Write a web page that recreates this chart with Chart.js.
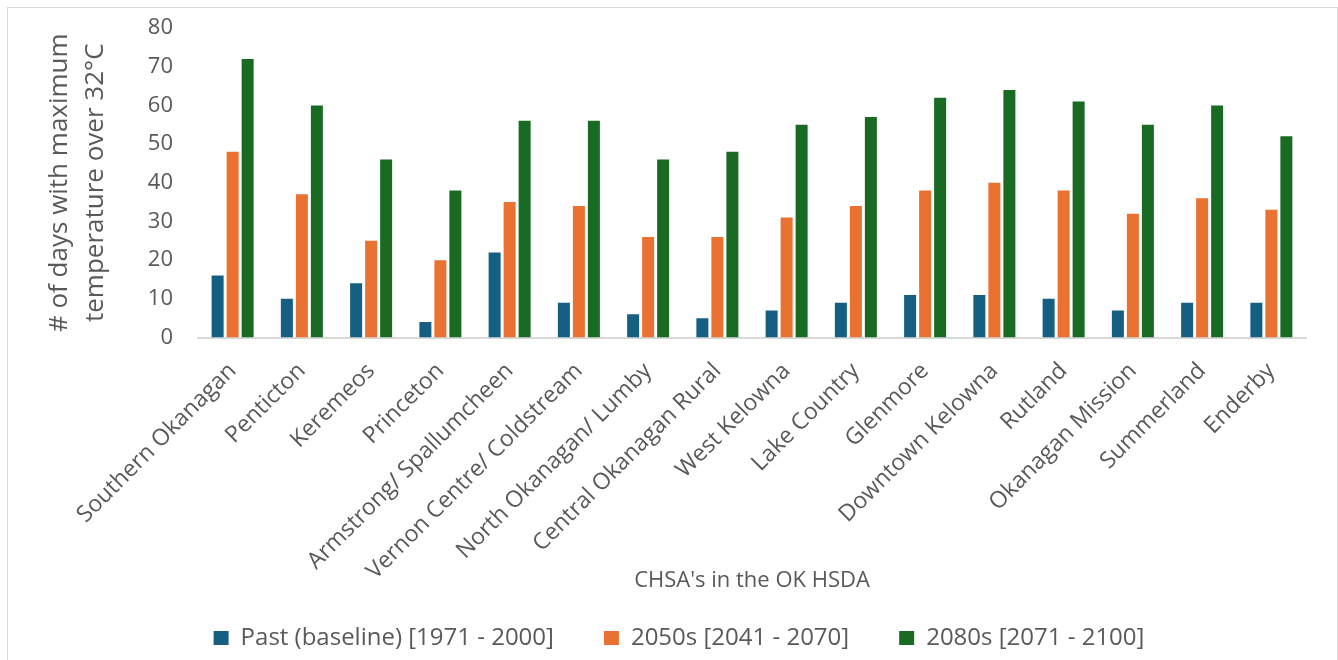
<!DOCTYPE html>
<html>
<head>
<meta charset="utf-8">
<script src="https://cdn.jsdelivr.net/npm/chart.js@4"></script>
<style>
  html, body { margin: 0; padding: 0; background: #fff; }
  #wrap { position: relative; width: 1338px; height: 660px; }
</style>
</head>
<body>
<div id="wrap"><canvas id="heatChart" width="1338" height="660"></canvas></div>
<script>
// CHSAs in the Okanagan HSDA
const areas = [
  "Southern Okanagan", "Penticton", "Keremeos", "Princeton",
  "Armstrong/ Spallumcheen", "Vernon Centre/ Coldstream", "North Okanagan/ Lumby",
  "Central Okanagan Rural", "West Kelowna", "Lake Country", "Glenmore",
  "Downtown Kelowna", "Rutland", "Okanagan Mission", "Summerland", "Enderby"
];

// days per year with max temperature over 32°C
const pastDays = [16, 10, 14, 4, 22, 9, 6, 5, 7, 9, 11, 11, 10, 7, 9, 9];
const days2050s = [48, 37, 25, 20, 35, 34, 26, 26, 31, 34, 38, 40, 38, 32, 36, 33];
const days2080s = [72, 60, 46, 38, 56, 56, 46, 48, 55, 57, 62, 64, 61, 55, 60, 52];

const seriesNames = ["Past (baseline) [1971 - 2000]", "2050s [2041 - 2070]", "2080s [2071 - 2100]"];
const yTicks = [0, 10, 20, 30, 40, 50, 60, 70, 80];

const textColor = "#595959";
const fontFamily = "'Open Sans', 'Liberation Sans', sans-serif";

// light grey frame around the whole chart
const framePlugin = {
  id: "frame",
  beforeDraw(chart) {
    const ctx = chart.ctx;
    ctx.save();
    ctx.fillStyle = "#fff";
    ctx.fillRect(0, 0, chart.width, chart.height);
    ctx.strokeStyle = "#d9d9d9";
    ctx.lineWidth = 1;
    ctx.strokeRect(7.5, 7.5, 1330, 670);
    ctx.restore();
  }
};

new Chart(document.getElementById("heatChart"), {
  type: "bar",
  data: {
    labels: areas,
    datasets: [
      { label: seriesNames[0], data: pastDays, backgroundColor: "#156082" },
      { label: seriesNames[1], data: days2050s, backgroundColor: "#E97132" },
      { label: seriesNames[2], data: days2080s, backgroundColor: "#196B24" }
    ]
  },
  options: {
    responsive: false,
    animation: false,
    categoryPercentage: 0.65,
    barPercentage: 0.8,
    layout: {
      autoPadding: false,
      padding: { left: 52, right: 32, top: 28, bottom: 0 }
    },
    plugins: {
      tooltip: { enabled: false },
      legend: {
        position: "bottom",
        maxHeight: 89.5,
        labels: {
          color: textColor,
          font: { family: fontFamily, size: 24 },
          boxWidth: 15,
          boxHeight: 14,
          padding: 50
        }
      }
    },
    scales: {
      x: {
        grid: { display: false, drawTicks: false },
        border: { display: true, color: "#d9d9d9", width: 2 },
        ticks: {
          color: textColor,
          font: { family: fontFamily, size: 23 },
          minRotation: 45,
          maxRotation: 45,
          autoSkip: false,
          padding: 20
        },
        title: {
          display: true,
          text: "CHSA's in the OK HSDA",
          color: textColor,
          font: { family: fontFamily, size: 22 },
          padding: { top: 0, bottom: -17.7 }
        },
        afterFit(scale) { scale.height = 238.5; }
      },
      y: {
        min: 0,
        max: 80,
        grid: { display: false, drawTicks: false },
        border: { display: false },
        afterBuildTicks(scale) { scale.ticks = yTicks.map(v => ({ value: v })); },
        ticks: {
          color: textColor,
          font: { family: fontFamily, size: 22 },
          padding: 25
        },
        title: {
          display: true,
          text: ["# of days with maximum", "temperature over 32°C"],
          color: textColor,
          font: { family: fontFamily, size: 26, lineHeight: 1.35 },
          padding: { top: -9.5, bottom: 0 }
        },
        afterFit(scale) {
          scale.width = 146;
          // keep the plot top/bottom where the layout padding puts them
          scale.paddingTop = 0;
          scale.paddingBottom = 0;
        }
      }
    }
  },
  plugins: [framePlugin]
});
</script>
</body>
</html>
